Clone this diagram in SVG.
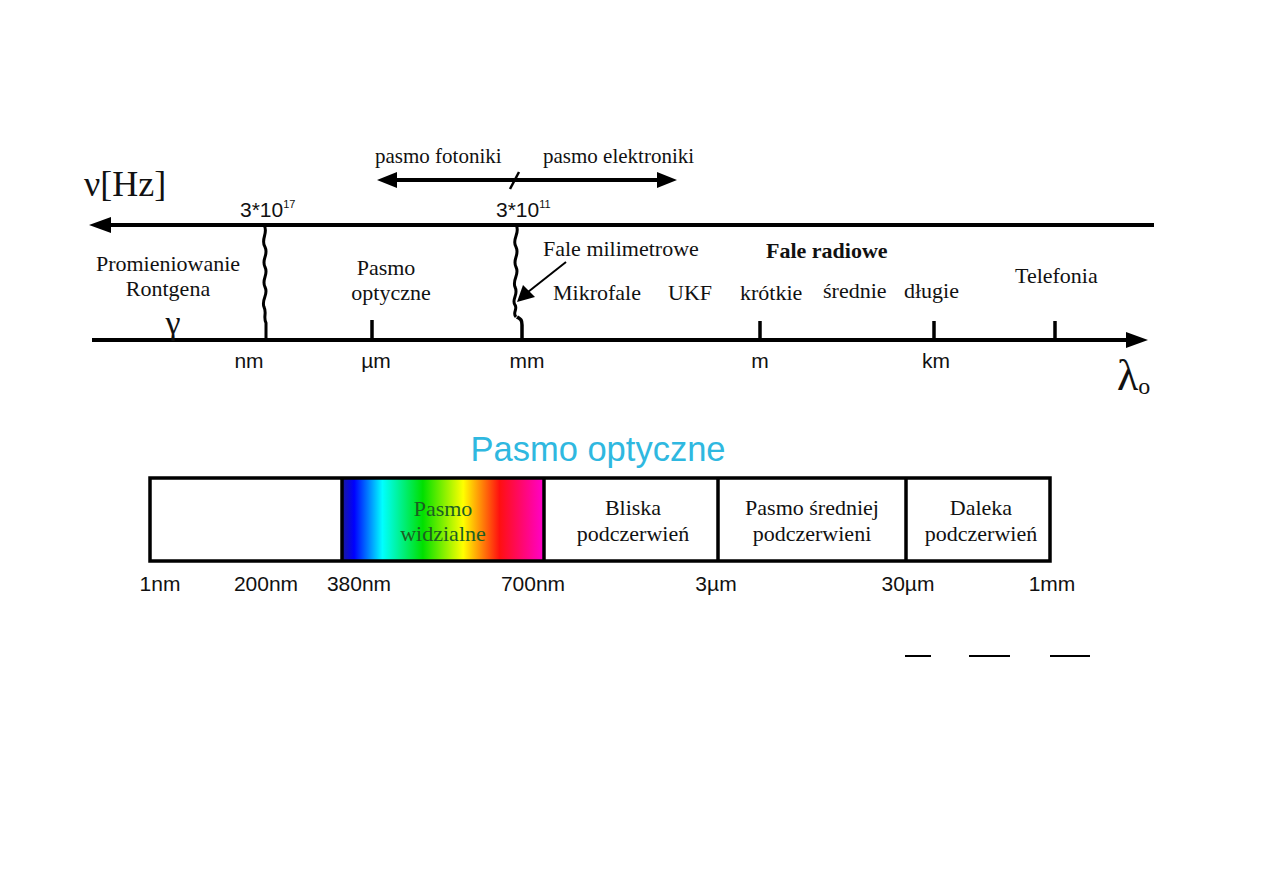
<svg xmlns="http://www.w3.org/2000/svg" width="1263" height="893" viewBox="0 0 1263 893">
<style>
.s{font-family:"Liberation Serif",serif;fill:#111;font-size:22px}
.a{font-family:"Liberation Sans",Arial,sans-serif;fill:#111;font-size:21px}
.ln{stroke:#000;stroke-width:4;fill:none}
.tk{stroke:#000;stroke-width:3.5;fill:none}
.wv{stroke:#000;stroke-width:3;fill:none}
.c{text-anchor:middle}
.g{fill:#1d5e22}
</style>
<defs>
<linearGradient id="vis" x1="0" y1="0" x2="1" y2="0">
<stop offset="0" stop-color="#1a1a9a"/>
<stop offset="0.06" stop-color="#0000ff"/>
<stop offset="0.2" stop-color="#00ffff"/>
<stop offset="0.4" stop-color="#00e000"/>
<stop offset="0.6" stop-color="#ffff00"/>
<stop offset="0.78" stop-color="#ff1010"/>
<stop offset="1" stop-color="#ff00cc"/>
</linearGradient>
</defs>
<rect width="1263" height="893" fill="#fff"/>
<g id="connectors">
<line class="ln" x1="108" y1="225" x2="1154" y2="225"/>
<polygon points="89,225 111,217 111,233" fill="#000"/>
<line class="ln" x1="92" y1="340" x2="1128" y2="340"/>
<polygon points="1148,340 1126,332 1126,348" fill="#000"/>
<line class="ln" x1="394" y1="180" x2="660" y2="180"/>
<polygon points="377,180 397,172 397,188" fill="#000"/>
<polygon points="677,180 657,172 657,188" fill="#000"/>
<line x1="510" y1="189" x2="519" y2="172" stroke="#000" stroke-width="2.5"/>
<path class="wv" d="M264,225 c5,8 -4,14 1,22 c4,8 -4,12 0,20 c4,8 -4,12 0,20 c4,8 -4,12 -1,20 c3,6 -1,10 2,16 l0,17"/>
<path class="wv" d="M516,225 c5,8 -5,14 0,22 c4,8 -4,12 0,20 c4,8 -4,12 -1,20 c4,8 -4,12 0,18 c3,4 -3,8 1,12"/>
<path class="tk" d="M517,317 c3,2 5,2 5,8 l0,15"/>
<line class="tk" x1="372" y1="320" x2="372" y2="340"/>
<line class="tk" x1="760" y1="321" x2="760" y2="340"/>
<line class="tk" x1="934" y1="321" x2="934" y2="340"/>
<line class="tk" x1="1055" y1="321" x2="1055" y2="340"/>
<line x1="566" y1="262" x2="528" y2="292" stroke="#000" stroke-width="2"/>
<polygon points="517,302 523,285 535,297" fill="#000"/>
</g>
<g id="top-labels">
<text x="84" y="196" font-family="Liberation Serif,serif" font-size="36" fill="#111">ν[Hz]</text>
<text class="s" x="375" y="163" style="font-size:21px">pasmo fotoniki</text>
<text class="s" x="543" y="163" style="font-size:21px">pasmo elektroniki</text>
<text class="a" x="240" y="217">3*10<tspan style="font-size:11px" dy="-9">17</tspan></text>
<text class="a" x="496" y="217">3*10<tspan style="font-size:11px" dy="-9">11</tspan></text>
</g>
<g id="band-labels">
<text class="s c" x="168" y="271">Promieniowanie</text>
<text class="s c" x="168" y="296">Rontgena</text>
<text class="s c" x="173" y="334" style="font-size:34px">γ</text>
<text class="s c" x="386" y="275">Pasmo</text>
<text class="s c" x="391" y="300">optyczne</text>
<text class="s" x="543" y="256">Fale milimetrowe</text>
<text class="s" x="766" y="258" font-weight="bold">Fale radiowe</text>
<text class="s" x="553" y="300">Mikrofale</text>
<text class="s" x="668" y="300">UKF</text>
<text class="s" x="740" y="300">krótkie</text>
<text class="s" x="823" y="298">średnie</text>
<text class="s" x="904" y="298">długie</text>
<text class="s" x="1015" y="283">Telefonia</text>
</g>
<g id="axis-labels">
<text class="a c" x="249" y="368">nm</text>
<text class="a c" x="376" y="368">µm</text>
<text class="a c" x="527" y="368">mm</text>
<text class="a c" x="760" y="368">m</text>
<text class="a c" x="936" y="368">km</text>
<text x="1117" y="390" font-family="Liberation Serif,serif" font-size="44" fill="#111">λ<tspan font-size="24" dy="4">o</tspan></text>
</g>
<g id="optical">
<text x="598" y="461" font-family="Liberation Sans,Arial,sans-serif" font-size="34.5" fill="#2fb8e0" text-anchor="middle">Pasmo optyczne</text>
<rect x="342" y="478" width="202" height="83" fill="url(#vis)"/>
<rect x="150" y="478" width="900" height="83" fill="none" stroke="#000" stroke-width="3.5"/>
<line class="tk" x1="342" y1="478" x2="342" y2="561"/>
<line class="tk" x1="544" y1="478" x2="544" y2="561"/>
<line class="tk" x1="718" y1="478" x2="718" y2="561"/>
<line class="tk" x1="906" y1="478" x2="906" y2="561"/>
<text class="s c g" x="443" y="516">Pasmo</text>
<text class="s c g" x="443" y="541">widzialne</text>
<text class="s c" x="633" y="515">Bliska</text>
<text class="s c" x="633" y="541">podczerwień</text>
<text class="s c" x="812" y="515">Pasmo średniej</text>
<text class="s c" x="812" y="541">podczerwieni</text>
<text class="s c" x="981" y="515">Daleka</text>
<text class="s c" x="981" y="541">podczerwień</text>
<text class="a c" x="160" y="591">1nm</text>
<text class="a c" x="266" y="591">200nm</text>
<text class="a c" x="359" y="591">380nm</text>
<text class="a c" x="533" y="591">700nm</text>
<text class="a c" x="716" y="591">3µm</text>
<text class="a c" x="908" y="591">30µm</text>
<text class="a c" x="1052" y="591">1mm</text>
</g>
<g id="underlines" stroke="#000" stroke-width="2">
<line x1="905" y1="656" x2="931" y2="656"/>
<line x1="969" y1="656" x2="1010" y2="656"/>
<line x1="1050" y1="656" x2="1090" y2="656"/>
</g>
</svg>
